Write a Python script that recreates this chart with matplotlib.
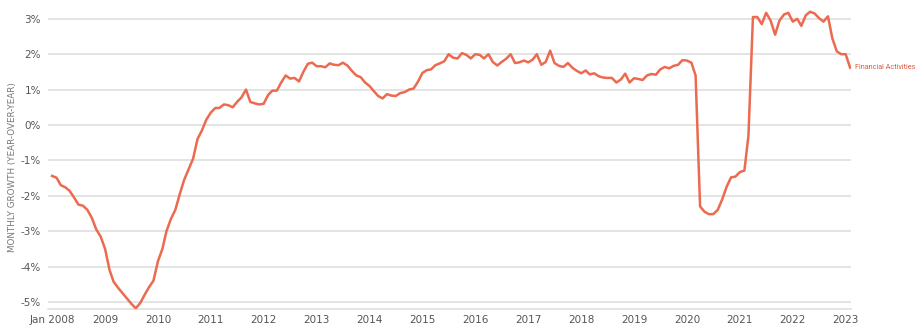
import pandas as pd
import matplotlib.pyplot as plt
from matplotlib.ticker import FuncFormatter

# Crescimento mensal (ano contra ano), em %: jan 2008 a fev 2023
anos = {
    2008: [-1.44, -1.49, -1.70, -1.76, -1.86, -2.05, -2.25, -2.28, -2.40, -2.62, -2.95, -3.15],
    2009: [-3.50, -4.10, -4.43, -4.60, -4.75, -4.90, -5.05, -5.18, -5.03, -4.80, -4.58, -4.40],
    2010: [-3.85, -3.50, -3.00, -2.65, -2.40, -1.95, -1.55, -1.25, -0.95, -0.40, -0.15, 0.15],
    2011: [0.35, 0.48, 0.48, 0.58, 0.56, 0.50, 0.65, 0.78, 1.00, 0.65, 0.61, 0.58],
    2012: [0.60, 0.85, 0.97, 0.97, 1.20, 1.40, 1.31, 1.33, 1.23, 1.50, 1.73, 1.76],
    2013: [1.66, 1.66, 1.63, 1.74, 1.70, 1.69, 1.76, 1.68, 1.53, 1.40, 1.35, 1.20],
    2014: [1.10, 0.95, 0.82, 0.75, 0.87, 0.83, 0.82, 0.90, 0.93, 1.00, 1.03, 1.22],
    2015: [1.47, 1.55, 1.57, 1.69, 1.74, 1.80, 2.00, 1.90, 1.88, 2.03, 1.98, 1.88],
    2016: [2.00, 1.98, 1.88, 2.00, 1.78, 1.68, 1.78, 1.87, 2.00, 1.75, 1.77, 1.82],
    2017: [1.77, 1.85, 2.00, 1.70, 1.78, 2.10, 1.75, 1.67, 1.64, 1.75, 1.62, 1.53],
    2018: [1.46, 1.54, 1.43, 1.46, 1.38, 1.34, 1.33, 1.33, 1.20, 1.28, 1.45, 1.20],
    2019: [1.32, 1.30, 1.27, 1.40, 1.44, 1.42, 1.57, 1.64, 1.60, 1.67, 1.70, 1.83],
    2020: [1.82, 1.76, 1.40, -2.30, -2.45, -2.52, -2.52, -2.40, -2.10, -1.75, -1.48, -1.46],
    2021: [-1.33, -1.29, -0.30, 3.05, 3.05, 2.85, 3.17, 2.95, 2.55, 2.95, 3.12, 3.17],
    2022: [2.92, 3.00, 2.80, 3.10, 3.20, 3.15, 3.02, 2.92, 3.07, 2.45, 2.08, 2.00],
    2023: [2.00, 1.62],
}
valores = [v for ano in anos for v in anos[ano]]
datas = pd.date_range('2008-01-01', periods=len(valores), freq='MS')

serie = 'Financial Activities'
titulo_y = 'MONTHLY GROWTH (YEAR-OVER-YEAR)'
marcas_y = [3, 2, 1, 0, -1, -2, -3, -4, -5]

cor_linha = '#ec6a4f'
cor_texto = '#555555'
cor_grade = '#dddddd'

fig = plt.figure(figsize=(9.19, 3.34), dpi=100)
ax = fig.add_axes([48 / 919, 25 / 334, (851 - 48) / 919, (309 - 5) / 334])

ax.plot(datas, valores, color=cor_linha, linewidth=1.8, solid_joinstyle='round', zorder=3)

# Eixos e grade
ax.set_ylim(-5.2, 3.39)
ax.set_xlim(pd.Timestamp('2007-12-04'), pd.Timestamp('2023-02-07'))
ax.set_yticks(marcas_y)
ax.yaxis.set_major_formatter(FuncFormatter(lambda v, p: f'{v:.0f}%'))
ax.grid(axis='y', color=cor_grade, linewidth=1.1, zorder=0)

anos_ticks = pd.date_range('2008-01-01', '2023-01-01', freq='YS')
ax.set_xticks(anos_ticks)
ax.set_xticklabels(['Jan 2008'] + [str(d.year) for d in anos_ticks[1:]])

ax.tick_params(axis='both', length=0, labelsize=7.5, labelcolor=cor_texto)
ax.tick_params(axis='y', pad=5)
ax.tick_params(axis='x', pad=4)

for lado in ['top', 'right', 'left']:
    ax.spines[lado].set_visible(False)
ax.spines['bottom'].set_color(cor_grade)
ax.spines['bottom'].set_linewidth(1.1)

fig.text(13 / 919, 0.5, titulo_y, rotation=90, ha='center', va='center',
         fontsize=6.3, color='#777777')

# Rótulo da série no fim da linha
ax.annotate(serie, xy=(datas[-1], valores[-1]), xytext=(3.5, 0), textcoords='offset points',
            ha='left', va='center', fontsize=5.2, color='#d95a40', family='Roboto')

fig.savefig('out.png', dpi=100)
